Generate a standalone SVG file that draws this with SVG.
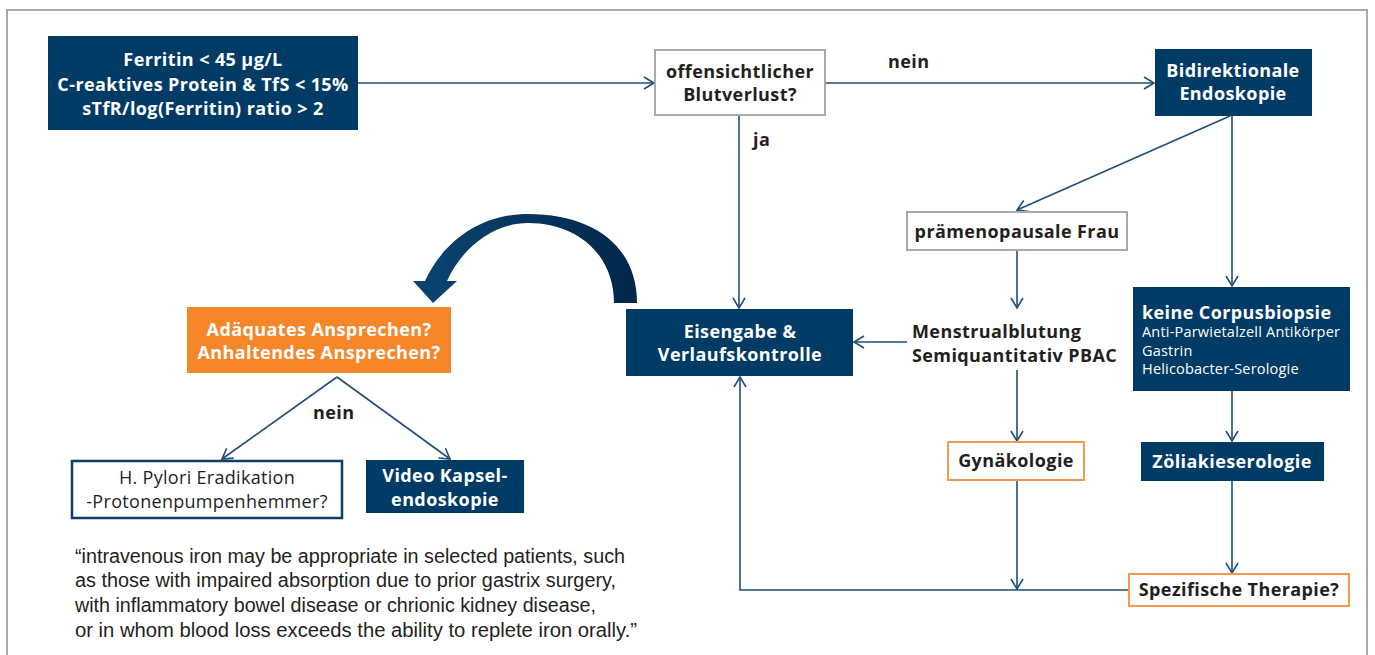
<svg xmlns="http://www.w3.org/2000/svg" width="1375" height="655" viewBox="0 0 1375 655">
<style>
.frame{fill:#fff;stroke:#a8a8a8;stroke-width:2}
.dk{fill:#003b66}
.wb{fill:#fff;stroke:#a9a9a9;stroke-width:2}
.ob{fill:#fff;stroke:#f39a4c;stroke-width:2}
.or{fill:#f5862a}
.hb{fill:#fff;stroke:#0b3f6a;stroke-width:2.5}
text{font-family:"Open Sans","Liberation Sans",Arial,sans-serif}
.tw{fill:#fff;font-weight:bold;font-size:18px;letter-spacing:0.4px;text-anchor:middle}
.td{fill:#231f20;font-weight:bold;font-size:18px;letter-spacing:0.4px;text-anchor:middle}
.tl{fill:#231f20;font-weight:bold;font-size:18px;letter-spacing:0.4px}
.tn{fill:#231f20;font-size:18px;letter-spacing:0.3px;text-anchor:middle}
.ts{fill:#fff;font-size:14.5px;letter-spacing:0.2px}
.q{fill:#231f20;font-size:19.5px;font-family:"Liberation Sans",Arial,sans-serif}
.c{fill:none;stroke:#1f4e79;stroke-width:1.6}
</style>
<defs>
<marker id="ah" markerUnits="userSpaceOnUse" viewBox="-12 -8 14 16" refX="0" refY="0" markerWidth="14" markerHeight="16" orient="auto" overflow="visible">
<path d="M-10,-6 L0,0 L-10,6" fill="none" stroke="#1f4e79" stroke-width="1.6"/>
</marker>
<linearGradient id="ag" x1="0" y1="0" x2="1" y2="0">
<stop offset="0" stop-color="#0b4572"/>
<stop offset="1" stop-color="#01264a"/>
</linearGradient>
</defs>
<rect class="frame" x="7" y="10" width="1360" height="670"/>

<g id="connectors">
<path class="c" d="M358 83 H654" marker-end="url(#ah)"/>
<path class="c" d="M825 83 H1154" marker-end="url(#ah)"/>
<path class="c" d="M739 116 V308" marker-end="url(#ah)"/>
<path class="c" d="M1230 116 L1017 210" marker-end="url(#ah)"/>
<path class="c" d="M1232 116 V286" marker-end="url(#ah)"/>
<path class="c" d="M1017 250 V308" marker-end="url(#ah)"/>
<path class="c" d="M907 342 H854" marker-end="url(#ah)"/>
<path class="c" d="M1017 370 V441" marker-end="url(#ah)"/>
<path class="c" d="M1232 391 V441" marker-end="url(#ah)"/>
<path class="c" d="M1232 481 V573" marker-end="url(#ah)"/>
<path class="c" d="M1017 480 V589" marker-end="url(#ah)"/>
<path class="c" d="M1128 590 H740 V377" marker-end="url(#ah)"/>
<path class="c" d="M337 377 L222 459" marker-end="url(#ah)"/>
<path class="c" d="M337 377 L450 459" marker-end="url(#ah)"/>
<path id="curved-arrow" fill="url(#ag)" d="M614 303 L637 303 C637 245 592 214 528 214 C478 214 442 244 425 281 L413 281 L433 303 L457 281 L447 281 C462 248 493 223 528 223 C578 223 614 255 614 303 Z"/>
</g>

<g id="labels">
<text class="tl" x="888" y="68">nein</text>
<text class="tl" x="753" y="146">ja</text>
<text class="tl" x="313" y="419">nein</text>
</g>

<g id="n-ferritin">
<rect class="dk" x="48" y="36" width="310" height="94"/>
<text class="tw" x="203" y="66">Ferritin &lt; 45 µg/L</text>
<text class="tw" x="203" y="91">C-reaktives Protein &amp; TfS &lt; 15%</text>
<text class="tw" x="203" y="115">sTfR/log(Ferritin) ratio &gt; 2</text>
</g>

<g id="n-blutverlust">
<rect class="wb" x="655" y="50" width="170" height="65"/>
<text class="td" x="740" y="78">offensichtlicher</text>
<text class="td" x="740" y="101">Blutverlust?</text>
</g>

<g id="n-endoskopie">
<rect class="dk" x="1155" y="49" width="157" height="67"/>
<text class="tw" x="1233" y="77">Bidirektionale</text>
<text class="tw" x="1233" y="100">Endoskopie</text>
</g>

<g id="n-frau">
<rect class="wb" x="907" y="212" width="220" height="38"/>
<text class="td" x="1017" y="238">prämenopausale Frau</text>
</g>

<g id="n-menstrual">
<text class="tl" x="912" y="338" font-size="19">Menstrualblutung</text>
<text class="tl" x="912" y="362" font-size="19">Semiquantitativ PBAC</text>
</g>

<g id="n-corpus">
<rect class="dk" x="1133" y="287" width="217" height="104"/>
<text class="tw" x="1142" y="319" font-size="19" style="text-anchor:start">keine Corpusbiopsie</text>
<text class="ts" x="1142" y="337">Anti-Parwietalzell Antikörper</text>
<text class="ts" x="1142" y="356">Gastrin</text>
<text class="ts" x="1142" y="374">Helicobacter-Serologie</text>
</g>

<g id="n-eisengabe">
<rect class="dk" x="626" y="309" width="227" height="67"/>
<text class="tw" x="740" y="338">Eisengabe &amp;</text>
<text class="tw" x="740" y="361">Verlaufskontrolle</text>
</g>

<g id="n-ansprechen">
<rect class="or" x="187" y="307" width="264" height="66"/>
<text class="tw" x="319" y="336">Adäquates Ansprechen?</text>
<text class="tw" x="319" y="359">Anhaltendes Ansprechen?</text>
</g>

<g id="n-pylori">
<rect class="hb" x="72" y="461" width="270" height="57"/>
<text class="tn" x="207" y="484">H. Pylori Eradikation</text>
<text class="tn" x="207" y="508">-Protonenpumpenhemmer?</text>
</g>

<g id="n-kapsel">
<rect class="dk" x="366" y="460" width="158" height="53"/>
<text class="tw" x="445" y="482">Video Kapsel-</text>
<text class="tw" x="445" y="506">endoskopie</text>
</g>

<g id="n-gyn">
<rect class="ob" x="948" y="442" width="136" height="38"/>
<text class="td" x="1016" y="467">Gynäkologie</text>
</g>

<g id="n-zoeliakie">
<rect class="dk" x="1141" y="442" width="183" height="39"/>
<text class="tw" x="1232" y="468">Zöliakieserologie</text>
</g>

<g id="n-therapie">
<rect class="ob" x="1129" y="574" width="220" height="32"/>
<text class="td" x="1239" y="596">Spezifische Therapie?</text>
</g>

<g id="quote">
<text class="q" x="75" y="563" textLength="550" lengthAdjust="spacingAndGlyphs">“intravenous iron may be appropriate in selected patients, such</text>
<text class="q" x="75" y="587" textLength="541" lengthAdjust="spacingAndGlyphs">as those with impaired absorption due to prior gastrix surgery,</text>
<text class="q" x="75" y="612" textLength="521" lengthAdjust="spacingAndGlyphs">with inflammatory bowel disease or chrionic kidney disease,</text>
<text class="q" x="75" y="637" textLength="562" lengthAdjust="spacingAndGlyphs">or in whom blood loss exceeds the ability to replete iron orally.”</text>
</g>
</svg>
